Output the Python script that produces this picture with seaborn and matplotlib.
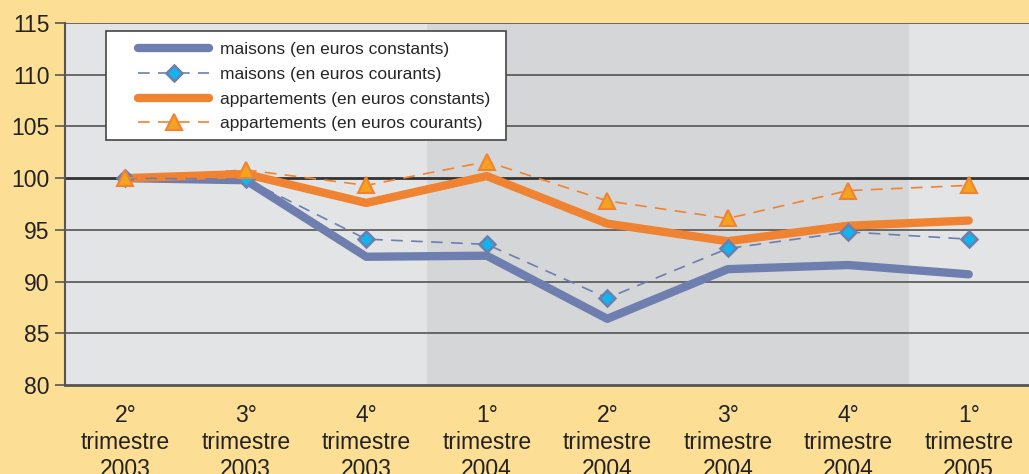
import pandas as pd
import numpy as np
import matplotlib.pyplot as plt
import seaborn as sns
from matplotlib.patches import Rectangle

# data
quarters = ["2°\ntrimestre\n2003", "3°\ntrimestre\n2003", "4°\ntrimestre\n2003", "1°\ntrimestre\n2004",
            "2°\ntrimestre\n2004", "3°\ntrimestre\n2004", "4°\ntrimestre\n2004", "1°\ntrimestre\n2005"]
maisons_const = [100.0, 99.8, 92.4, 92.5, 86.4, 91.2, 91.6, 90.7]
maisons_cour = [100.0, 99.9, 94.1, 93.6, 88.4, 93.2, 94.8, 94.1]
apparts_const = [100.0, 100.4, 97.6, 100.2, 95.6, 93.9, 95.4, 95.9]
apparts_cour = [100.0, 100.8, 99.3, 101.6, 97.8, 96.1, 98.8, 99.3]

labels = ["maisons (en euros constants)", "maisons (en euros courants)",
          "appartements (en euros constants)", "appartements (en euros courants)"]

df = pd.DataFrame({"x": np.arange(len(quarters))})
df[labels[0]] = maisons_const
df[labels[1]] = maisons_cour
df[labels[2]] = apparts_const
df[labels[3]] = apparts_cour

sns.set_style("white")
plt.rcParams['font.family'] = ['Liberation Sans', 'DejaVu Sans']

blue = "#6E7EAE"
orange = "#F08331"

fig = plt.figure(figsize=(10.29, 4.74), dpi=100)
fig.patch.set_facecolor("#FCDF95")
ax = fig.add_axes([65/1029, 89/474, 964/1029, 362/474])
ax.set_facecolor("#E3E4E6")
ax.axvspan(2.5, 6.5, color="#D5D6D8", zorder=0, lw=0)

for y in [85, 90, 95, 105, 110, 115]:
    ax.axhline(y, color="#555555", lw=1.2, zorder=1)
ax.axhline(100, color="#333333", lw=2, zorder=1)

sns.lineplot(data=df, x="x", y=labels[0], ax=ax, color=blue, lw=6, label=labels[0], zorder=3)
sns.lineplot(data=df, x="x", y=labels[1], ax=ax, color=blue, lw=1.2, linestyle=(0, (7, 5)),
             marker="D", markersize=8.5, markerfacecolor="#10B4EE", markeredgecolor=blue, markeredgewidth=1.8,
             label=labels[1], zorder=4)
sns.lineplot(data=df, x="x", y=labels[2], ax=ax, color=orange, lw=6, label=labels[2], zorder=3)
sns.lineplot(data=df, x="x", y=labels[3], ax=ax, color=orange, lw=1.2, linestyle=(0, (7, 5)),
             marker="^", markersize=12, markerfacecolor="#F5A21F", markeredgecolor=orange, markeredgewidth=1.5,
             label=labels[3], zorder=4)

ax.set_xlim(-0.5, 7.5)
ax.set_ylim(80, 115)
ax.set_yticks(range(80, 116, 5))
ax.set_xticks(range(len(quarters)))
ax.set_xticklabels(quarters, fontsize=16.5, color="#222222", linespacing=1.2)
ax.set_xticks(np.arange(-0.5, 7.6, 1), minor=True)
ax.tick_params(axis="x", which="major", length=0, pad=14)
ax.tick_params(axis="x", which="minor", length=6, width=1.2, color="#555555", direction="out")
ax.tick_params(axis="y", length=7, width=1.2, color="#555555", labelsize=16.5, labelcolor="#222222",
               left=True, pad=4)
ax.set_xlabel("")
ax.set_ylabel("")

for s in ["top", "right"]:
    ax.spines[s].set_visible(False)
ax.spines["left"].set_color("#555555")
ax.spines["left"].set_linewidth(1.5)
ax.spines["bottom"].set_color("#555555")
ax.spines["bottom"].set_linewidth(2)

# legend frame drawn separately (box 106..506 x 31..140 px)
frame = Rectangle(((106 - 65) / 964, (385 - 140) / 362), 400 / 964, 109 / 362, transform=ax.transAxes,
                  facecolor="white", edgecolor="#444444", lw=1.2, zorder=5)
ax.add_patch(frame)
leg = ax.legend(loc="upper left", bbox_to_anchor=((126 - 65) / 964, (385 - 30) / 362), fontsize=12.5,
                frameon=False, handlelength=4.1, borderpad=0.2, labelspacing=0.55, handletextpad=0.6)
leg.set_zorder(6)

fig.savefig("out.png", dpi=100, facecolor=fig.get_facecolor())
